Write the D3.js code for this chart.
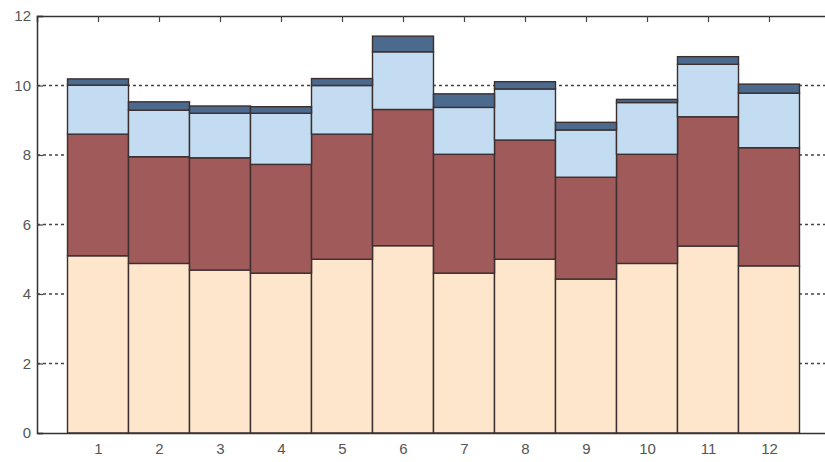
<!DOCTYPE html>
<html><head><meta charset="utf-8">
<script src="https://cdn.jsdelivr.net/npm/d3@7"></script>
<style>body{margin:0;background:#fff}svg{display:block}text{font-family:"Liberation Sans",Arial,sans-serif}</style>
</head><body>
<svg id="c" width="825" height="462"></svg>
<script>
const categories = [1,2,3,4,5,6,7,8,9,10,11,12];
const seriesPeach = [5.10,4.88,4.69,4.60,5.00,5.39,4.60,5.00,4.43,4.88,5.38,4.81];
const seriesRed   = [3.50,3.07,3.23,3.13,3.60,3.92,3.42,3.43,2.93,3.14,3.72,3.40];
const seriesLight = [1.41,1.34,1.28,1.47,1.40,1.66,1.35,1.47,1.36,1.49,1.51,1.57];
const seriesDark  = [0.18,0.24,0.21,0.19,0.20,0.45,0.39,0.21,0.22,0.09,0.22,0.26];
const yTicks = [0,2,4,6,8,10,12];
const gridTicks = [2,4,6,8,10];
const colors = ["#fde6cb","#a15a5a","#c4dcf1","#4c6a8e"];

const svg = d3.select("#c");
const x = d3.scaleLinear().domain([0,13]).range([37,830]);
const y = d3.scaleLinear().domain([0,12]).range([433,16]);

const table = categories.map((c,i)=>({c, a:seriesPeach[i], b:seriesRed[i], l:seriesLight[i], d:seriesDark[i]}));
const stack = d3.stack().keys(["a","b","l","d"])(table);

// grid
svg.append("g").selectAll("line").data(gridTicks).join("line")
  .attr("x1",x(0)).attr("x2",x(13)).attr("y1",d=>y(d)).attr("y2",d=>y(d))
  .attr("stroke","#444").attr("stroke-width",1.3).attr("stroke-dasharray","3,3");

// bars
const bw = x(1)-x(0);
stack.forEach((s,k)=>{
  svg.append("g").selectAll("rect").data(s).join("rect")
    .attr("x",d=>x(d.data.c)-bw/2).attr("width",bw)
    .attr("y",d=>y(d[1])).attr("height",d=>y(d[0])-y(d[1]))
    .attr("fill",colors[k]).attr("stroke","#3b2f2f").attr("stroke-width",1.4);
});

// axes
const axLeft = svg.append("g").attr("transform",`translate(${x(0)},0)`)
  .call(d3.axisLeft(y).tickValues(yTicks).tickSize(-6).tickPadding(6).tickFormat(d3.format("d")));
const axBottom = svg.append("g").attr("transform",`translate(0,${y(0)})`)
  .call(d3.axisBottom(x).tickValues(categories).tickSize(0).tickPadding(10));
const axTop = svg.append("g").attr("transform",`translate(0,${y(12)})`)
  .call(d3.axisTop(x).tickValues(categories).tickSize(-6).tickFormat(""));
[axLeft,axBottom,axTop].forEach(g=>{
  g.attr("font-size",null).attr("font-family",null);
  g.select(".domain").attr("stroke","#333").attr("stroke-width",1.5);
  g.selectAll(".tick line").attr("stroke","#444").attr("stroke-width",1.2);
  g.selectAll("text").attr("fill","#555").style("font-size","15px");
});
</script>
</body></html>
